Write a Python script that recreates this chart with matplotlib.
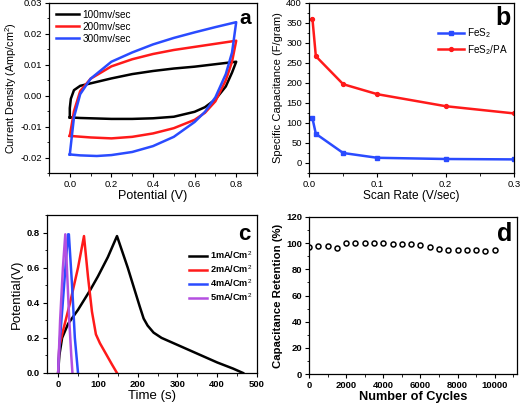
import matplotlib
matplotlib.use("Agg")
import matplotlib.pyplot as plt
from matplotlib.ticker import MultipleLocator, FormatStrFormatter

plt.rcParams['font.family'] = ['Liberation Sans', 'DejaVu Sans']
plt.rcParams['mathtext.fontset'] = 'custom'
plt.rcParams['mathtext.rm'] = 'Liberation Sans'
plt.rcParams['mathtext.bf'] = 'Liberation Sans:bold'

# ---- Panel a: CV loops (potential V, current density A/cm2) ----
cv_labels = ["100mv/sec", "200mv/sec", "300mv/sec"]
cv100_x = [0.0, 0.05, 0.1, 0.2, 0.3, 0.4, 0.5, 0.6, 0.65, 0.7, 0.75, 0.78, 0.8,
           0.8, 0.7, 0.6, 0.5, 0.4, 0.3, 0.2, 0.1, 0.05, 0.02, 0.005, 0.0, 0.0]
cv100_y = [-0.007, -0.0072, -0.0073, -0.0075, -0.0075, -0.0073, -0.0068, -0.0052, -0.0037, -0.0012, 0.003, 0.0075, 0.011,
           0.011, 0.0102, 0.0094, 0.0088, 0.008, 0.007, 0.0056, 0.004, 0.0032, 0.0018, -0.001, -0.004, -0.007]
cv200_x = [0.0, 0.1, 0.2, 0.3, 0.4, 0.5, 0.6, 0.65, 0.7, 0.75, 0.78, 0.8,
           0.8, 0.7, 0.6, 0.5, 0.4, 0.3, 0.2, 0.1, 0.05, 0.02, 0.0]
cv200_y = [-0.013, -0.0135, -0.0138, -0.0133, -0.0122, -0.0105, -0.0078, -0.0055, -0.0018, 0.005, 0.011, 0.0178,
           0.0178, 0.0168, 0.0158, 0.0148, 0.0135, 0.0118, 0.0095, 0.0055, 0.0015, -0.005, -0.013]
cv300_x = [0.0, 0.05, 0.13, 0.2, 0.3, 0.4, 0.5, 0.6, 0.65, 0.7, 0.75, 0.78, 0.8,
           0.8, 0.7, 0.6, 0.5, 0.4, 0.3, 0.2, 0.1, 0.05, 0.02, 0.0]
cv300_y = [-0.019, -0.0193, -0.0195, -0.0192, -0.0182, -0.0163, -0.0133, -0.0085, -0.0052, -0.0005, 0.007, 0.014, 0.0238,
           0.0238, 0.0222, 0.0205, 0.0187, 0.0166, 0.014, 0.011, 0.0055, 0.0005, -0.007, -0.019]

# ---- Panel b: specific capacitance vs scan rate ----
scan_rate = [0.005, 0.01, 0.05, 0.1, 0.2, 0.3]
cap_fes2 = [112, 73, 25, 13, 10, 9]
cap_fes2_pa = [361, 267, 197, 172, 142, 124]

# ---- Panel c: galvanostatic charge/discharge ----
gcd_labels = ["1mA/Cm$^2$", "2mA/Cm$^2$", "4mA/Cm$^2$", "5mA/Cm$^2$"]
gcd1_t = [0, 3, 10, 25, 50, 80, 100, 125, 148, 160, 175, 190, 205, 215, 225, 240, 260, 300, 350, 400, 440, 465]
gcd1_v = [0, 0.1, 0.2, 0.28, 0.36, 0.47, 0.55, 0.66, 0.78, 0.7, 0.6, 0.49, 0.38, 0.31, 0.27, 0.23, 0.2, 0.16, 0.11, 0.06, 0.025, 0.0]
gcd2_t = [0, 3, 10, 30, 50, 65, 75, 85, 95, 105, 120, 135, 148]
gcd2_v = [0, 0.15, 0.22, 0.4, 0.6, 0.78, 0.55, 0.35, 0.22, 0.17, 0.11, 0.05, 0.0]
gcd4_t = [0, 3, 10, 20, 25, 27, 35, 42, 48, 50]
gcd4_v = [0, 0.15, 0.35, 0.65, 0.79, 0.79, 0.5, 0.2, 0.05, 0.0]
gcd5_t = [0, 5, 12, 18, 22, 28, 33, 36]
gcd5_v = [0, 0.3, 0.6, 0.79, 0.6, 0.3, 0.1, 0.0]

# ---- Panel d: cycling stability ----
cycles = [0, 500, 1000, 1500, 2000, 2500, 3000, 3500, 4000, 4500, 5000,
          5500, 6000, 6500, 7000, 7500, 8000, 8500, 9000, 9500, 10000]
retention = [97, 98, 98, 96, 100, 100, 100, 100, 100, 99.5, 99,
             99, 98.5, 97, 95.5, 95, 95, 94.5, 95, 94, 94.5]

W, H = 521, 409
fig = plt.figure(figsize=(W / 100, H / 100), dpi=100)

def ax_at(l, t, r, b):
    return fig.add_axes([l / W, 1 - b / H, (r - l) / W, (b - t) / H])

def style(ax, bold=False):
    ax.tick_params(which='both', direction='out', top=False, right=False, labelsize=6.8, pad=2)
    ax.tick_params(which='major', length=3, width=0.8)
    ax.tick_params(which='minor', length=1.8, width=0.6)
    for s in ax.spines.values():
        s.set_linewidth(0.9)
    if bold:
        for lab in ax.get_xticklabels() + ax.get_yticklabels():
            lab.set_fontweight('bold')

lw = 1.8

# a
axa = ax_at(49, 3, 257, 173)
axa.plot(cv100_x, cv100_y, color='black', lw=lw, label=cv_labels[0])
axa.plot(cv200_x, cv200_y, color='#ff1a1a', lw=lw, label=cv_labels[1])
axa.plot(cv300_x, cv300_y, color='#2a4bff', lw=lw, label=cv_labels[2])
axa.set_xlim(-0.1, 0.9)
axa.set_ylim(-0.025, 0.03)
axa.xaxis.set_major_locator(MultipleLocator(0.2))
axa.xaxis.set_minor_locator(MultipleLocator(0.1))
axa.yaxis.set_major_locator(MultipleLocator(0.01))
axa.yaxis.set_minor_locator(MultipleLocator(0.005))
axa.xaxis.set_major_formatter(FormatStrFormatter('%.1f'))
axa.yaxis.set_major_formatter(FormatStrFormatter('%.2f'))
style(axa)
axa.set_xlabel("Potential (V)", fontsize=9, labelpad=1)
axa.set_ylabel("Current Density (Amp/cm$^2$)", fontsize=7.8, labelpad=1)
axa.legend(loc='upper left', frameon=False, fontsize=7.2, handlelength=2.3,
           borderaxespad=0.25, labelspacing=0.2, handletextpad=0.4)
axa.text(0.97, 0.965, "a", transform=axa.transAxes, ha='right', va='top',
         fontsize=15, fontweight='bold')

# b
axb = ax_at(309, 3, 514, 173)
axb.plot(scan_rate, cap_fes2, color='#2a4bff', lw=lw, marker='s', ms=2.8, label="FeS$_2$")
axb.plot(scan_rate, cap_fes2_pa, color='#ff1a1a', lw=lw, marker='o', ms=2.8, label="FeS$_2$/PA")
axb.set_xlim(0, 0.3)
axb.set_ylim(-25, 400)
axb.xaxis.set_major_locator(MultipleLocator(0.1))
axb.xaxis.set_minor_locator(MultipleLocator(0.05))
axb.yaxis.set_major_locator(MultipleLocator(50))
axb.yaxis.set_minor_locator(MultipleLocator(25))
axb.xaxis.set_major_formatter(FormatStrFormatter('%.1f'))
style(axb)
axb.set_xlabel("Scan Rate (V/sec)", fontsize=8.6, labelpad=1)
axb.set_ylabel("Specific Capacitance (F/gram)", fontsize=8, labelpad=2)
axb.legend(loc='upper right', bbox_to_anchor=(1.0, 0.9), frameon=False, fontsize=7.2,
           handlelength=2.6, labelspacing=0.3, handletextpad=0.3, borderaxespad=0.2)
axb.text(0.985, 0.985, "b", transform=axb.transAxes, ha='right', va='top',
         fontsize=18, fontweight='bold')

# c
axc = ax_at(47, 215, 257, 373)
axc.plot(gcd1_t, gcd1_v, color='black', lw=lw, label=gcd_labels[0])
axc.plot(gcd2_t, gcd2_v, color='#ff1a1a', lw=lw, label=gcd_labels[1])
axc.plot(gcd4_t, gcd4_v, color='#2a4bff', lw=lw, label=gcd_labels[2])
axc.plot(gcd5_t, gcd5_v, color='#b44fe0', lw=lw, label=gcd_labels[3])
axc.set_xlim(-28, 500)
axc.set_ylim(0, 0.9)
axc.xaxis.set_major_locator(MultipleLocator(100))
axc.xaxis.set_minor_locator(MultipleLocator(50))
axc.yaxis.set_major_locator(MultipleLocator(0.2))
axc.yaxis.set_minor_locator(MultipleLocator(0.1))
axc.yaxis.set_major_formatter(FormatStrFormatter('%.1f'))
style(axc, bold=True)
axc.set_xlabel("Time (s)", fontsize=9.5, labelpad=1)
axc.set_ylabel("Potential(V)", fontsize=9.5, labelpad=3)
axc.legend(loc='upper right', bbox_to_anchor=(1.0, 0.81), frameon=False,
           handlelength=2.0, labelspacing=0.25, handletextpad=0.3,
           borderaxespad=0.1, prop={'weight': 'bold', 'size': 6.6})
axc.text(0.97, 0.94, "c", transform=axc.transAxes, ha='right', va='top',
         fontsize=16, fontweight='bold')

# d
axd = ax_at(309, 217, 517, 374)
axd.plot(cycles, retention, linestyle='none', marker='o', ms=3.6, mfc='white',
         mec='black', mew=1.1)
axd.set_xlim(0, 11200)
axd.set_ylim(0, 120)
axd.xaxis.set_major_locator(MultipleLocator(2000))
axd.xaxis.set_minor_locator(MultipleLocator(1000))
axd.yaxis.set_major_locator(MultipleLocator(20))
axd.yaxis.set_minor_locator(MultipleLocator(10))
style(axd, bold=True)
axd.set_xlabel("Number of Cycles", fontsize=9.2, fontweight='bold', labelpad=1)
axd.set_ylabel("Capacitance Retention (%)", fontsize=8.2, fontweight='bold', labelpad=2)
axd.text(0.98, 0.97, "d", transform=axd.transAxes, ha='right', va='top',
         fontsize=18, fontweight='bold')

fig.savefig("out.png", dpi=100)
